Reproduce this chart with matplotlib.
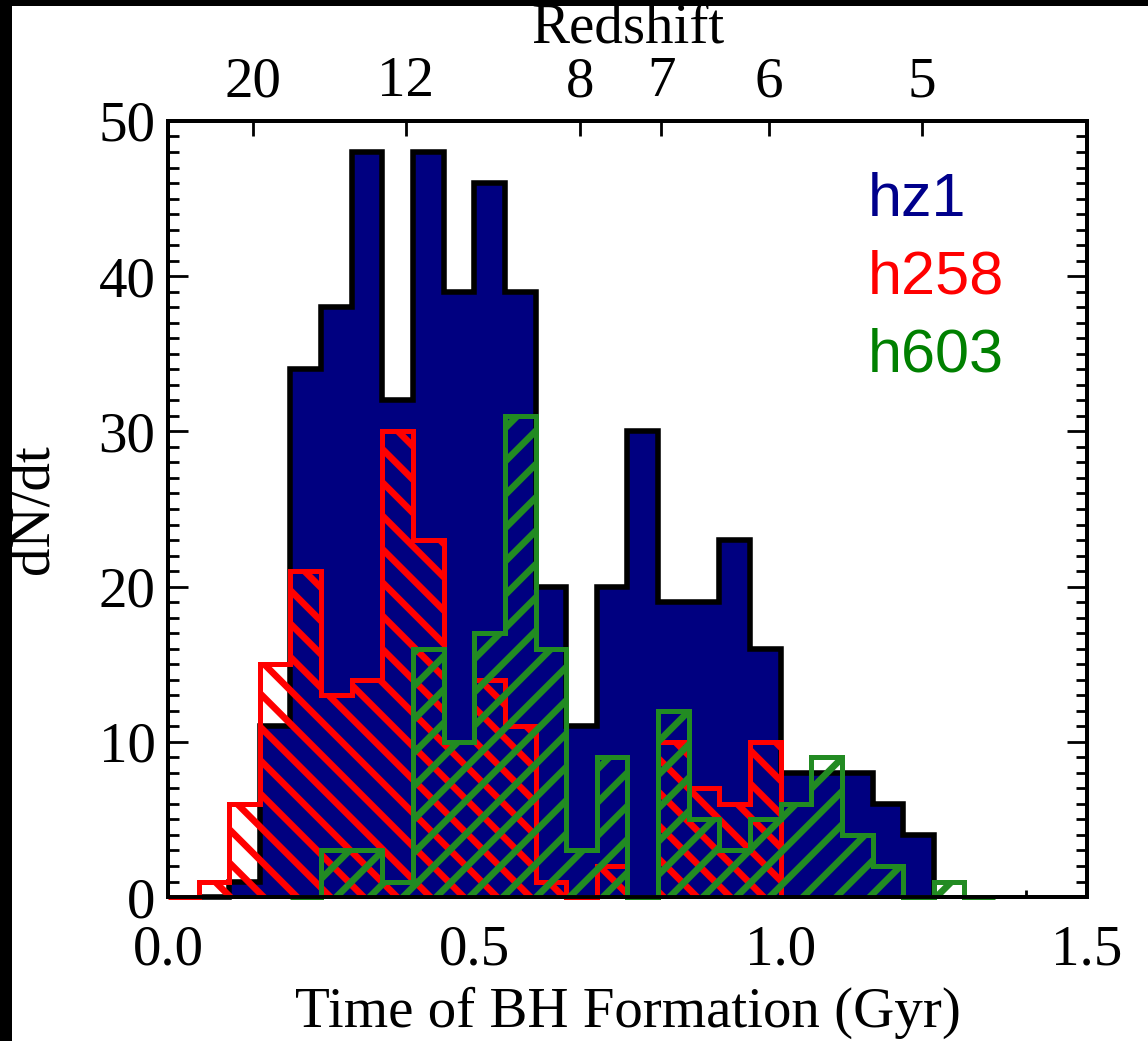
import numpy as np
import matplotlib
matplotlib.use('Agg')
import matplotlib.pyplot as plt
from matplotlib.patches import Rectangle
from matplotlib.ticker import MultipleLocator

plt.rcParams['font.family'] = ['Liberation Serif', 'DejaVu Serif']
plt.rcParams['hatch.linewidth'] = 2.4

# histogram data, bins of 0.05 Gyr
bin_width = 0.05

hz1_start = 0.05
hz1 = [0, 1, 11, 34, 38, 48, 32, 48, 39, 46, 39, 20, 11, 20, 30,
       19, 19, 23, 16, 8, 8, 8, 6, 4]

h258_start = 0.0
h258 = [0, 1, 6, 15, 21, 13, 14, 30, 23, 10, 14, 11, 1, 0, 2,
        0, 10, 7, 6, 10]

h603_start = 0.20
h603 = [0, 3, 3, 1, 16, 10, 17, 31, 16, 3, 9, 0, 12, 5, 3,
        5, 6, 9, 4, 2, 0, 1, 0]

# top axis: redshift vs cosmic time (Gyr)
z_labels = ['20', '12', '8', '7', '6', '5']
z_ages = [0.139, 0.388, 0.672, 0.805, 0.981, 1.231]

names = ['hz1', 'h258', 'h603']
name_colors = ['#00008b', '#ff0000', '#008000']


def edges_for(start, vals):
    return start + bin_width * np.arange(len(vals) + 1)


fig = plt.figure(figsize=(5.74, 5.205), dpi=200)
ax = fig.add_axes([0.1463, 0.1383, 0.8006, 0.7455])

ax.stairs(hz1, edges_for(hz1_start, hz1), fill=True, facecolor='#000080',
          edgecolor='black', linewidth=2.0, joinstyle='miter', zorder=2, clip_on=False)
ax.stairs(h258, edges_for(h258_start, h258), fill=True, facecolor='none',
          edgecolor='#ff0000', hatch='\\\\', linewidth=1.8, joinstyle='miter',
          zorder=3, clip_on=False)
ax.stairs(h603, edges_for(h603_start, h603), fill=True, facecolor='none',
          edgecolor='#228b22', hatch='//', linewidth=1.8, joinstyle='miter',
          zorder=4, clip_on=False)

ax.set_xlim(0, 1.5)
ax.set_ylim(0, 50)
ax.xaxis.set_major_locator(MultipleLocator(0.5))
ax.xaxis.set_minor_locator(MultipleLocator(0.1))
ax.yaxis.set_major_locator(MultipleLocator(10))
ax.yaxis.set_minor_locator(MultipleLocator(1))
ax.xaxis.set_major_formatter(matplotlib.ticker.FormatStrFormatter('%.1f'))

ax.tick_params(axis='both', which='both', direction='in', labelsize=20.5,
               width=1.0, top=False, right=True)
ax.tick_params(axis='x', which='major', length=5.4, pad=10)
ax.tick_params(axis='x', which='minor', length=2.5)
ax.tick_params(axis='y', which='major', length=7.2, pad=4.5)
ax.tick_params(axis='y', which='minor', length=4.0)
for s in ax.spines.values():
    s.set_linewidth(1.4)

ax.set_xlabel('Time of BH Formation (Gyr)', fontsize=20.5, labelpad=3.5)
ax.set_ylabel('dN/dt', fontsize=20.5, labelpad=14)

ax2 = ax.twiny()
ax2.set_xlim(ax.get_xlim())
ax2.set_xticks(z_ages)
ax2.set_xticklabels(z_labels)
ax2.tick_params(axis='x', direction='in', length=5.4, width=1.0, labelsize=20.5, pad=4.5)
ax2.set_xlabel('Redshift', fontsize=20.5, labelpad=5)
for s in ax2.spines.values():
    s.set_linewidth(1.4)

y_pos = [0.877, 0.778, 0.677]
for n, c, yp in zip(names, name_colors, y_pos):
    ax.text(0.761, yp, n, color=c, transform=ax.transAxes, fontsize=22,
            family=['Liberation Sans', 'DejaVu Sans'], va='baseline', ha='left')

# black frame remnants on top and left edges of the original image
fig.add_artist(Rectangle((0, 1 - 6 / 1041), 1, 6 / 1041, transform=fig.transFigure,
                         facecolor='black', edgecolor='none'))
fig.add_artist(Rectangle((0, 0), 12 / 1148, 1, transform=fig.transFigure,
                         facecolor='black', edgecolor='none'))

fig.savefig('out.png', dpi=200)
